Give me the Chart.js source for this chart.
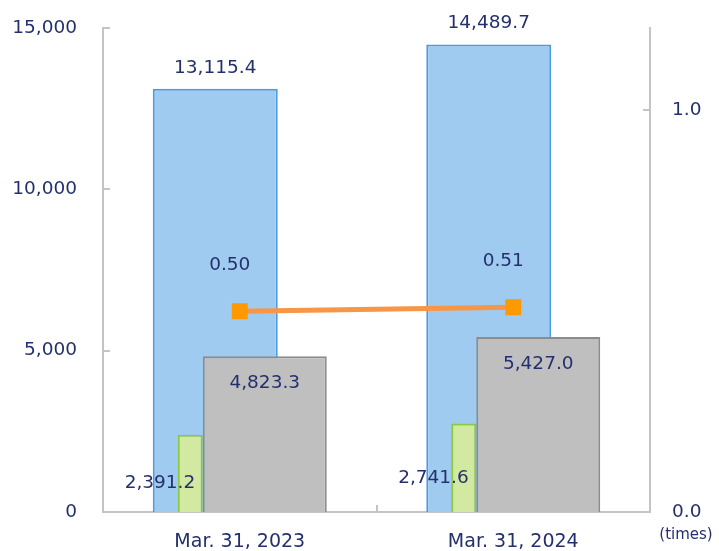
<!DOCTYPE html>
<html>
<head>
<meta charset="utf-8">
<script src="https://cdn.jsdelivr.net/npm/chart.js@4"></script>
<style>
  html, body { margin: 0; padding: 0; background: #fff; }
  #wrap { width: 719px; height: 551px; }
</style>
</head>
<body>
<div id="wrap"><canvas id="graphique"></canvas></div>
<script>
// Données
const categories = ["Mar. 31, 2023", "Mar. 31, 2024"];
const totalActif = [13115.4, 14489.7];      // barres bleues
const detteFinanciere = [2391.2, 2741.6];   // barres vertes
const capitauxPropres = [4823.3, 5427.0];   // barres grises
const ratioDE = [0.50, 0.51];               // ligne orange (axe droit)
const ticksGauche = [0, 5000, 10000, 15000];
const ticksDroite = [0, 1];

const texte = "#24306E";
const gris = "#C4C4C4";
const police = "'DejaVu Sans', Verdana, sans-serif";
Chart.defaults.font.family = police;
Chart.defaults.font.size = 18.5;
Chart.defaults.color = texte;

// largeur d'une catégorie dans la zone de tracé (547 px / 2)
const largeurCat = 273.5;

const nombre = (v, d) => v.toLocaleString("en-US", { minimumFractionDigits: d, maximumFractionDigits: d });

// petites graduations tournées vers l'intérieur + étiquettes de valeurs
const pluginDessin = {
  id: "dessin",
  afterDraw(chart) {
    const ctx = chart.ctx;
    const { x, y, y1 } = chart.scales;
    ctx.save();
    ctx.strokeStyle = gris;
    ctx.lineWidth = 2;
    ctx.beginPath();
    for (const v of ticksGauche) {
      const py = Math.round(y.getPixelForValue(v));
      ctx.moveTo(y.right, py); ctx.lineTo(y.right + 7, py);
    }
    for (const v of ticksDroite) {
      const py = Math.round(y1.getPixelForValue(v));
      ctx.moveTo(y1.left, py); ctx.lineTo(y1.left - 7, py);
    }
    const milieu = Math.round((x.getPixelForTick(0) + x.getPixelForTick(1)) / 2);
    ctx.moveTo(milieu, x.top); ctx.lineTo(milieu, x.top - 7);
    ctx.stroke();

    ctx.fillStyle = texte;
    ctx.font = "18.5px " + police;
    ctx.textBaseline = "middle";
    chart.data.datasets.forEach((ds, i) => {
      if (!ds.etiquette) return;
      const meta = chart.getDatasetMeta(i);
      meta.data.forEach((el, j) => {
        const v = ds.data[j];
        if (ds.etiquette === "haut") {
          ctx.textAlign = "center";
          ctx.fillText(nombre(v, 1), el.x, el.y - 21);
        } else if (ds.etiquette === "dedans") {
          ctx.textAlign = "center";
          ctx.fillText(nombre(v, 1), el.x, el.y + 27);
        } else if (ds.etiquette === "gauche") {
          ctx.textAlign = "right";
          ctx.fillText(nombre(v, 1), el.x + 5, (el.y + el.base) / 2 + 10);
        } else if (ds.etiquette === "ligne") {
          ctx.textAlign = "center";
          ctx.fillText(nombre(v, 2), el.x - 10, el.y - 46);
        }
      });
    });
    ctx.font = "15px " + police;
    ctx.textAlign = "center";
    ctx.fillText("(times)", y1.left + 36, y1.bottom + 23);
    ctx.restore();
  }
};

// taille fixe des axes, sans marge automatique au-dessus
const fixerAxe = (largeur) => (s) => {
  s.width = largeur;
  s.paddingTop = 0;
  s.paddingBottom = 0;
};

new Chart(document.querySelector("#graphique"), {
  type: "bar",
  data: {
    labels: categories,
    datasets: [
      {
        label: "Interest-bearing debt", data: detteFinanciere, xAxisID: "x2", yAxisID: "y", order: 2,
        categoryPercentage: 132 / largeurCat, barPercentage: 25 / 33,
        backgroundColor: "#D2E9A1", borderColor: "#8DC63F", borderWidth: 2, borderSkipped: "bottom",
        etiquette: "gauche"
      },
      {
        label: "Total assets", data: totalActif, xAxisID: "x2", yAxisID: "y", order: 3,
        categoryPercentage: 196 / largeurCat, barPercentage: 125 / 49,
        backgroundColor: "#A0CBF0", borderColor: "#4A9BE0", borderWidth: 2, borderSkipped: "bottom",
        etiquette: "haut"
      },
      {
        label: "Net assets", data: capitauxPropres, xAxisID: "x", yAxisID: "y", order: 1,
        categoryPercentage: 100 / largeurCat, barPercentage: 124 / 50,
        backgroundColor: "#BFBFBF", borderColor: "#8C8C8C", borderWidth: 2, borderSkipped: "bottom",
        etiquette: "dedans"
      },
      {
        type: "line", label: "D/E ratio", data: ratioDE, xAxisID: "x", yAxisID: "y1", order: 0,
        borderColor: "#F79646", borderWidth: 5, pointStyle: "rect", pointRadius: 11.3,
        pointBackgroundColor: "#FF9900", pointBorderColor: "#FF9900", pointBorderWidth: 0,
        etiquette: "ligne"
      }
    ]
  },
  options: {
    responsive: true,
    maintainAspectRatio: false,
    animation: false,
    layout: { padding: { top: 28, left: 0, right: 0, bottom: 0 } },
    plugins: { legend: { display: false }, tooltip: { enabled: false } },
    scales: {
      x: {
        type: "category", offset: true,
        grid: { display: false, drawTicks: false },
        border: { color: gris, width: 2 },
        ticks: { padding: 19, font: { size: 19 } },
        afterFit: (s) => { s.height = 39; s.paddingLeft = 0; s.paddingRight = 0; }
      },
      x2: { type: "category", display: false, offset: true, grid: { offset: true } },
      y: {
        position: "left", min: 0, max: 15000,
        grid: { display: false, drawTicks: false },
        border: { color: gris, width: 2 },
        ticks: { stepSize: 5000, padding: 26, callback: (v) => nombre(v, 0) },
        afterFit: fixerAxe(103)
      },
      y1: {
        position: "right", min: 0, max: 1.205,
        grid: { display: false, drawTicks: false },
        border: { color: gris, width: 2 },
        ticks: { stepSize: 1, includeBounds: false, padding: 22, callback: (v) => nombre(v, 1) },
        afterFit: fixerAxe(69)
      }
    }
  },
  plugins: [pluginDessin]
});
</script>
</body>
</html>
